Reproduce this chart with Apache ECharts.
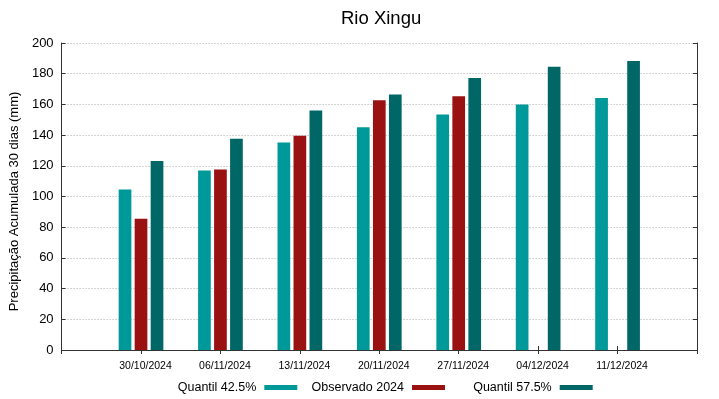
<!DOCTYPE html>
<html>
<head>
<meta charset="utf-8">
<script src="https://cdn.jsdelivr.net/npm/echarts@6/dist/echarts.min.js"></script>
<style>
  html, body { margin: 0; padding: 0; background: #fff; }
  #chart { width: 719px; height: 399px; }
</style>
</head>
<body>
<div id="chart"></div>
<script>
// datas das semanas
var categorias = ['30/10/2024', '06/11/2024', '13/11/2024', '20/11/2024', '27/11/2024', '04/12/2024', '11/12/2024'];
// precipitacao acumulada 30 dias (mm)
var quantil425 = [104.6, 116.9, 135.1, 145.1, 153.4, 159.9, 164.2];
var observado2024 = [85.5, 117.6, 139.5, 162.7, 165.3, null, null];
var quantil575 = [123.2, 137.7, 156.0, 166.4, 177.2, 184.6, 188.3];
var yTicks = [0, 20, 40, 60, 80, 100, 120, 140, 160, 180, 200];

// uma categoria vazia em cada ponta, igual ao gnuplot
var cats = [''].concat(categorias, ['']);
function pad(arr) {
  return ['-'].concat(arr.map(function (v) { return v == null ? '-' : v; }), ['-']);
}

var fonte = 'Liberation Sans, Arial, sans-serif';
var corEixo = '#333';

var myChart = echarts.init(document.getElementById('chart'));

function legenda(nome, right) {
  return {
    data: [nome],
    right: right,
    top: 381,
    padding: 0,
    align: 'right',
    itemWidth: 33,
    itemHeight: 5,
    icon: 'rect',
    selectedMode: false,
    textStyle: { fontFamily: fonte, fontSize: 12.5, color: '#000', padding: [0, 3, 0, 0] }
  };
}

var option = {
  backgroundColor: '#fff',
  animation: false,
  title: {
    text: 'Rio Xingu',
    left: 336,
    top: 4,
    textStyle: { fontFamily: fonte, fontSize: 18.5, fontWeight: 'normal', color: '#000' }
  },
  legend: [
    legenda('Quantil 42.5%', 421.7),
    legenda('Observado 2024', 274),
    legenda('Quantil 57.5%', 126.3)
  ],
  grid: { left: 59, right: 22, top: 43, bottom: 49 },
  xAxis: [
    {
      type: 'category',
      data: cats,
      boundaryGap: false,
      position: 'bottom',
      axisLine: { show: true, lineStyle: { color: corEixo, width: 1 } },
      axisTick: { show: true, inside: true, length: 4, lineStyle: { color: corEixo } },
      axisLabel: {
        fontFamily: fonte, fontSize: 10.5, color: '#000', margin: 11,
        padding: [0, 0, 0, 9], interval: 0
      },
      splitLine: { show: false }
    },
    {
      type: 'category',
      data: cats,
      boundaryGap: false,
      position: 'top',
      axisLine: { show: true, lineStyle: { color: corEixo, width: 1 } },
      axisTick: { show: true, inside: true, length: 4, lineStyle: { color: corEixo } },
      axisLabel: { show: false },
      splitLine: { show: false }
    }
  ],
  yAxis: [
    {
      type: 'value',
      min: yTicks[0],
      max: yTicks[yTicks.length - 1],
      interval: yTicks[1] - yTicks[0],
      name: 'Precipitação Acumulada 30 dias (mm)',
      nameLocation: 'middle',
      nameRotate: 90,
      nameGap: 36,
      nameTextStyle: { fontFamily: fonte, fontSize: 13, color: '#000', padding: [0, 10, 0, 0] },
      axisLine: { show: true, lineStyle: { color: corEixo, width: 1 } },
      axisTick: { show: true, inside: true, length: 4, lineStyle: { color: corEixo } },
      axisLabel: { fontFamily: fonte, fontSize: 13, color: '#000', margin: 8 },
      splitLine: { show: true, lineStyle: { color: '#aaa', type: [1, 2], width: 1 } }
    },
    {
      type: 'value',
      position: 'right',
      min: yTicks[0],
      max: yTicks[yTicks.length - 1],
      interval: yTicks[1] - yTicks[0],
      axisLine: { show: true, lineStyle: { color: corEixo, width: 1 } },
      axisTick: { show: true, inside: true, length: 4, lineStyle: { color: corEixo } },
      axisLabel: { show: false },
      splitLine: { show: false }
    }
  ],
  series: [
    {
      name: 'Quantil 42.5%',
      type: 'bar',
      data: pad(quantil425),
      barWidth: 12.7,
      barGap: '26%',
      itemStyle: { color: '#009999' }
    },
    {
      name: 'Observado 2024',
      type: 'bar',
      data: pad(observado2024),
      barWidth: 12.7,
      barGap: '26%',
      itemStyle: { color: '#991111' }
    },
    {
      name: 'Quantil 57.5%',
      type: 'bar',
      data: pad(quantil575),
      barWidth: 12.7,
      barGap: '26%',
      itemStyle: { color: '#006666' }
    }
  ]
};

myChart.setOption(option);
</script>
</body>
</html>
